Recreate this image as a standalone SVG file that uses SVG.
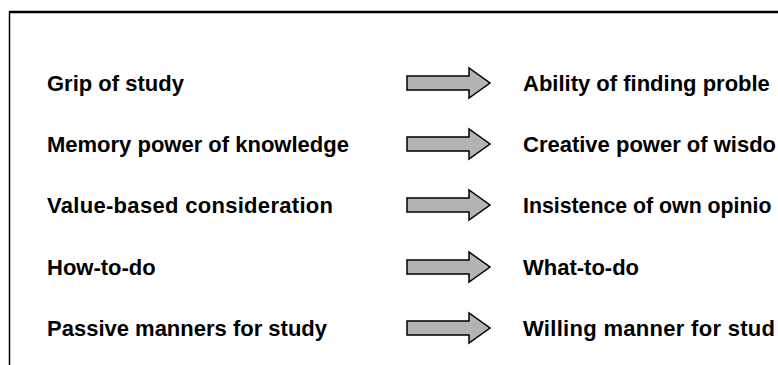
<svg xmlns="http://www.w3.org/2000/svg" width="778" height="365" viewBox="0 0 778 365">
<style>
.t{font-family:"Liberation Sans",Arial,sans-serif;font-weight:bold;font-size:22px;fill:#000}
.a{fill:#b3b3b3;stroke:#000;stroke-width:1.5;stroke-linejoin:miter}
.f{stroke:#000;fill:none}
</style>
<defs>
<path id="arr" class="a" d="M407,-7 H469 V-15 L490,0 L469,15 V7 H407 Z"/>
</defs>
<rect width="778" height="365" fill="#fff"/>
<g id="frame">
<line class="f" x1="9" y1="12" x2="778" y2="12" stroke-width="2.5"/>
<line class="f" x1="9.5" y1="11" x2="9.5" y2="365" stroke-width="1.5"/>
</g>
<g id="row1"><text class="t" x="47" y="91">Grip of study</text></g>
<g id="row2"><text class="t" x="47" y="152">Memory power of knowledge</text></g>
<g id="row3"><text class="t" x="47" y="213" textLength="286" lengthAdjust="spacing">Value-based consideration</text></g>
<g id="row4"><text class="t" x="47" y="275">How-to-do</text></g>
<g id="row5"><text class="t" x="47" y="336">Passive manners for study</text></g>
<g id="res1"><text class="t" x="523" y="91">Ability of finding proble</text></g>
<g id="res2"><text class="t" x="523" y="152">Creative power of wisdo</text></g>
<g id="res3"><text class="t" x="523" y="213" style="font-size:21.3px">Insistence of own opinio</text></g>
<g id="res4"><text class="t" x="523" y="275">What-to-do</text></g>
<g id="res5"><text class="t" x="523" y="336" textLength="252" lengthAdjust="spacing">Willing manner for stud</text></g>
<g id="connectors">
<use href="#arr" transform="translate(0,83)"/>
<use href="#arr" transform="translate(0,144)"/>
<use href="#arr" transform="translate(0,205)"/>
<use href="#arr" transform="translate(0,267)"/>
<use href="#arr" transform="translate(0,328)"/>
</g>
</svg>
